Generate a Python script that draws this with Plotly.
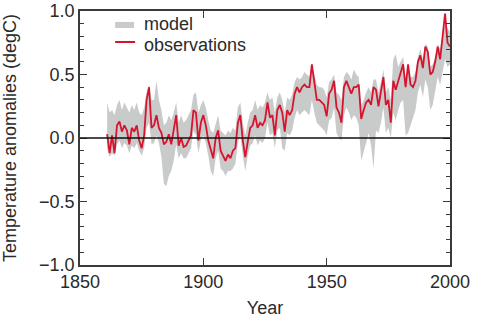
import plotly.graph_objects as go

years = list(range(1861, 2001))

observations = [
    0.03, -0.12, 0.02, -0.12, 0.10, 0.13, 0.05, 0.10, 0.06, -0.05,
    0.08, 0.05, 0.10, -0.02, -0.08, 0.02, 0.30, 0.40, 0.08, 0.10,
    0.18, 0.08, 0.04, -0.05, -0.03, 0.03, -0.05, 0.05, 0.18, -0.06,
    0.00, -0.07, -0.06, -0.02, 0.02, 0.22, 0.20, -0.02, 0.12, 0.18,
    0.10, -0.02, -0.10, -0.16, 0.00, 0.06, -0.10, -0.14, -0.18, -0.13,
    -0.16, -0.10, -0.08, 0.12, 0.18, -0.02, -0.15, -0.03, 0.08, 0.10,
    0.18, 0.08, 0.12, 0.10, 0.14, 0.28, 0.16, 0.18, 0.02, 0.22,
    0.26, 0.20, 0.05, 0.22, 0.18, 0.22, 0.35, 0.40, 0.36, 0.40,
    0.42, 0.40, 0.40, 0.58, 0.42, 0.30, 0.30, 0.28, 0.26, 0.17,
    0.35, 0.38, 0.45, 0.24, 0.20, 0.12, 0.40, 0.45, 0.40, 0.35,
    0.40, 0.40, 0.42, 0.15, 0.22, 0.28, 0.30, 0.26, 0.40, 0.38,
    0.25, 0.35, 0.48, 0.26, 0.30, 0.12, 0.45, 0.38, 0.45, 0.52,
    0.58, 0.40, 0.58, 0.42, 0.40, 0.45, 0.60, 0.65, 0.55, 0.72,
    0.68, 0.50, 0.52, 0.60, 0.72, 0.62, 0.78, 0.98, 0.75, 0.72,
]

model_high = [
    0.28, 0.20, 0.22, 0.18, 0.26, 0.30, 0.22, 0.28, 0.24, 0.20,
    0.26, 0.22, 0.28, 0.20, 0.18, 0.24, 0.36, 0.42, 0.30, 0.30,
    0.45, 0.30, 0.22, 0.10, 0.12, 0.18, 0.14, 0.20, 0.28, 0.12,
    0.18, 0.12, 0.14, 0.18, 0.22, 0.34, 0.36, 0.20, 0.26, 0.30,
    0.24, 0.14, 0.06, 0.04, 0.12, 0.18, 0.06, 0.04, 0.02, 0.06,
    0.04, 0.08, 0.06, 0.24, 0.28, 0.12, 0.02, 0.12, 0.20, 0.22,
    0.30, 0.22, 0.26, 0.24, 0.28, 0.36, 0.30, 0.32, 0.20, 0.32,
    0.36, 0.30, 0.20, 0.32, 0.30, 0.34, 0.44, 0.48, 0.46, 0.48,
    0.52, 0.50, 0.48, 0.56, 0.50, 0.42, 0.40, 0.40, 0.38, 0.32,
    0.44, 0.46, 0.50, 0.36, 0.34, 0.30, 0.48, 0.52, 0.50, 0.46,
    0.54, 0.50, 0.48, 0.26, 0.30, 0.36, 0.40, 0.36, 0.46, 0.46,
    0.36, 0.44, 0.54, 0.36, 0.40, 0.30, 0.62, 0.66, 0.56, 0.60,
    0.64, 0.46, 0.56, 0.48, 0.48, 0.52, 0.64, 0.70, 0.62, 0.74,
    0.72, 0.56, 0.58, 0.64, 0.74, 0.70, 0.80, 0.90, 0.86, 0.84,
]

model_low = [
    -0.08, -0.15, -0.12, -0.14, -0.05, -0.02, -0.08, -0.04, -0.06, -0.12,
    -0.06, -0.08, -0.04, -0.10, -0.14, -0.08, 0.08, 0.12, -0.05, -0.04,
    0.02, -0.04, -0.15, -0.36, -0.38, -0.30, -0.26, -0.18, -0.05, -0.16,
    -0.12, -0.16, -0.16, -0.12, -0.08, 0.06, 0.02, -0.12, -0.02, 0.02,
    -0.04, -0.14, -0.26, -0.30, -0.16, -0.10, -0.24, -0.26, -0.30, -0.26,
    -0.26, -0.24, -0.20, -0.04, 0.02, -0.14, -0.26, -0.14, -0.06, -0.04,
    0.02, -0.06, -0.02, -0.04, 0.00, 0.12, 0.02, 0.04, -0.08, 0.06,
    0.08, -0.08, -0.10, 0.04, 0.02, 0.06, 0.16, 0.22, 0.18, 0.20,
    0.22, 0.20, 0.18, 0.30, 0.20, 0.12, 0.10, 0.08, 0.06, 0.02,
    0.14, 0.16, 0.24, 0.04, 0.00, -0.02, 0.18, 0.24, 0.20, 0.14,
    0.18, 0.16, 0.10, -0.18, -0.12, -0.04, 0.04, -0.06, -0.24, 0.06,
    0.04, 0.12, 0.24, 0.04, 0.08, 0.00, 0.20, 0.14, 0.22, 0.28,
    0.30, 0.02, 0.04, 0.10, 0.16, 0.22, 0.36, 0.42, 0.32, 0.46,
    0.40, 0.22, 0.26, 0.36, 0.48, 0.42, 0.52, 0.62, 0.56, 0.58,
]

x_ticks = [1850, 1900, 1950, 2000]
y_ticks = [-1.0, -0.5, 0.0, 0.5, 1.0]
y_tick_text = ["\u22121.0", "\u22120.5", "0.0", "0.5", "1.0"]
legend_labels = ["model", "observations"]

FONT = "Liberation Sans, Arial, sans-serif"
TXT = "#2a2a2a"
FRAME = "#3a3a3a"
GREY = "#c9cbca"
RED = "#d7142f"

fig = go.Figure()
fig.add_trace(go.Scatter(
    x=years + years[::-1],
    y=model_high + model_low[::-1],
    fill="toself", fillcolor=GREY, mode="lines",
    line=dict(width=0, color=GREY), name=legend_labels[0],
    hoverinfo="skip",
))
fig.add_trace(go.Scatter(
    x=years, y=observations, mode="lines",
    line=dict(color=RED, width=1.8), name=legend_labels[1],
))
fig.add_hline(y=0, line=dict(color="#111111", width=1.5))

# manual legend (paper coordinates of the plot area)
fig.add_shape(type="rect", xref="paper", yref="paper",
              x0=0.095, x1=0.146, y0=0.933, y1=0.957,
              fillcolor=GREY, line=dict(width=0))
fig.add_shape(type="line", xref="paper", yref="paper",
              x0=0.095, x1=0.149, y0=0.878, y1=0.878,
              line=dict(color=RED, width=2))
fig.add_annotation(xref="paper", yref="paper", x=0.167, y=0.949,
                   text=legend_labels[0], showarrow=False,
                   xanchor="left", yanchor="middle",
                   font=dict(size=18, color=TXT))
fig.add_annotation(xref="paper", yref="paper", x=0.167, y=0.868,
                   text=legend_labels[1], showarrow=False,
                   xanchor="left", yanchor="middle",
                   font=dict(size=18, color=TXT))

fig.update_layout(
    width=500, height=332,
    margin=dict(l=80, r=50, t=11, b=67),
    paper_bgcolor="white", plot_bgcolor="white",
    font=dict(family=FONT, size=18, color=TXT),
    showlegend=False,
)
fig.update_xaxes(
    range=[1850, 2000], tickvals=x_ticks, ticktext=[str(v) for v in x_ticks],
    ticks="inside", ticklen=7, tickwidth=1.3, tickcolor=FRAME,
    showline=True, linecolor=FRAME, linewidth=1.6, mirror="ticks",
    showgrid=False, zeroline=False, ticklabeloverflow="allow",
    automargin=False, tickfont=dict(size=18),
    title=dict(text="Year", standoff=10, font=dict(size=18, color=TXT)),
)
fig.update_yaxes(
    range=[-1.0, 1.0], tickvals=y_ticks, ticktext=y_tick_text,
    ticks="inside", ticklen=7, tickwidth=1.3, tickcolor=FRAME,
    minor=dict(dtick=0.1, ticks="inside", ticklen=4, tickwidth=1, tickcolor=FRAME),
    showline=True, linecolor=FRAME, linewidth=1.6, mirror="ticks",
    showgrid=False, zeroline=False, ticklabeloverflow="allow",
    automargin=False, tickfont=dict(size=18),
    title=dict(text="Temperature anomalies (degC)", standoff=19,
               font=dict(size=18, color=TXT)),
)

fig.write_html("out.html")
